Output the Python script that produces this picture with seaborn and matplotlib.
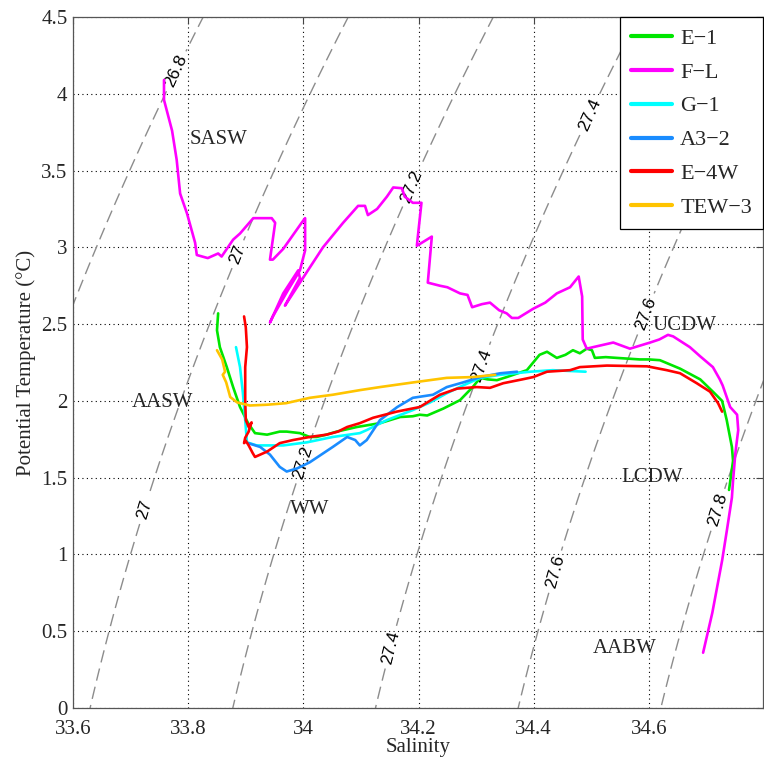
import numpy as np
import pandas as pd
import matplotlib
matplotlib.use("Agg")
import matplotlib.pyplot as plt
from matplotlib.lines import Line2D
import seaborn as sns

# ---------------- data ----------------
stations = ["E\u22121", "F\u2212L", "G\u22121", "A3\u22122", "E\u22124W", "TEW\u22123"]
colors = ["#00e600", "#ff00ff", "#00ffff", "#1a8cff", "#ff0000", "#ffc400"]

E1_S = [33.852, 33.85, 33.855, 33.867, 33.878, 33.89, 33.904, 33.916, 33.937, 33.959, 33.971, 33.994, 34.011, 34.023,
        34.04, 34.058, 34.093, 34.133, 34.168, 34.19, 34.202, 34.215, 34.243, 34.272, 34.294, 34.307, 34.32, 34.336,
        34.353, 34.388, 34.41, 34.423, 34.44, 34.455, 34.468, 34.48, 34.492, 34.501, 34.506, 34.525, 34.544, 34.584,
        34.6, 34.619, 34.654, 34.689, 34.711, 34.727, 34.735, 34.744, 34.746, 34.742, 34.739]
E1_T = [2.57, 2.46, 2.35, 2.22, 2.09, 1.96, 1.855, 1.79, 1.78, 1.80, 1.80, 1.79, 1.765, 1.765,
        1.78, 1.80, 1.83, 1.855, 1.895, 1.90, 1.91, 1.905, 1.95, 2.005, 2.09, 2.15, 2.14, 2.135,
        2.155, 2.20, 2.30, 2.32, 2.28, 2.30, 2.33, 2.31, 2.34, 2.33, 2.28, 2.285, 2.28, 2.27,
        2.27, 2.265, 2.21, 2.14, 2.06, 2.0, 1.875, 1.70, 1.61, 1.50, 1.42]

FL_S = [33.758, 33.758, 33.772, 33.78, 33.786, 33.798, 33.812, 33.815, 33.834, 33.852, 33.858, 33.878, 33.89, 33.913,
        33.945, 33.951, 33.942, 33.947, 33.965, 33.997, 34.003, 34.003, 33.994, 33.973, 33.947, 33.942, 33.965, 33.991,
        33.994, 33.968, 33.994, 34.034, 34.069, 34.095, 34.107, 34.112, 34.128, 34.145, 34.156, 34.171, 34.176, 34.19,
        34.205, 34.197, 34.223, 34.216, 34.237, 34.25, 34.272, 34.285, 34.293, 34.31, 34.324, 34.34, 34.353, 34.362,
        34.373, 34.399, 34.42, 34.44, 34.463, 34.478, 34.484, 34.485, 34.492, 34.503, 34.538, 34.567, 34.602, 34.618,
        34.633, 34.642, 34.671, 34.689, 34.711, 34.723, 34.728, 34.741, 34.753, 34.755, 34.75, 34.746, 34.744, 34.735,
        34.727, 34.71, 34.694]
FL_T = [4.09, 3.96, 3.76, 3.57, 3.35, 3.22, 3.03, 2.95, 2.93, 2.96, 2.94, 3.05, 3.09, 3.19,
        3.19, 3.16, 2.92, 2.92, 2.99, 3.16, 3.19, 2.98, 2.85, 2.72, 2.55, 2.51, 2.70, 2.85,
        2.80, 2.62, 2.77, 3.0, 3.16, 3.27, 3.27, 3.21, 3.25, 3.33, 3.39, 3.385, 3.33, 3.29,
        3.29, 3.01, 3.07, 2.77, 2.75, 2.74, 2.70, 2.69, 2.61, 2.63, 2.64, 2.59, 2.57, 2.54,
        2.54, 2.60, 2.64, 2.70, 2.74, 2.81, 2.68, 2.40, 2.34, 2.35, 2.38, 2.34, 2.38, 2.40,
        2.43, 2.42, 2.35, 2.29, 2.22, 2.14, 2.10, 1.96, 1.91, 1.81, 1.66, 1.48, 1.37, 1.15,
        0.96, 0.62, 0.36]

G1_S = [33.883, 33.89, 33.895, 33.899, 33.902, 33.919, 33.965, 34.006, 34.051, 34.098, 34.11, 34.145, 34.19, 34.22,
        34.249, 34.277, 34.307, 34.342, 34.394, 34.433, 34.49]
G1_T = [2.35, 2.22, 2.05, 1.875, 1.73, 1.71, 1.71, 1.73, 1.765, 1.79, 1.81, 1.875, 1.94, 1.99,
        2.05, 2.10, 2.15, 2.17, 2.19, 2.20, 2.19]

A32_S = [33.904, 33.925, 33.942, 33.959, 33.971, 33.989, 34.011, 34.051, 34.076, 34.09, 34.098, 34.11, 34.133, 34.163,
         34.19, 34.225, 34.249, 34.277, 34.307, 34.342, 34.371]
A32_T = [1.725, 1.70, 1.65, 1.57, 1.54, 1.56, 1.60, 1.70, 1.765, 1.745, 1.71, 1.745, 1.875, 1.96,
         2.02, 2.04, 2.09, 2.12, 2.155, 2.18, 2.19]

E4W_S = [33.897, 33.9, 33.902, 33.899, 33.899, 33.9, 33.905, 33.91, 33.905, 33.899, 33.897, 33.90, 33.905, 33.912,
         33.916, 33.937, 33.959, 33.982, 34.011, 34.04, 34.06, 34.076, 34.098, 34.121, 34.162, 34.202, 34.237, 34.267,
         34.301, 34.324, 34.347, 34.38, 34.399, 34.423, 34.463, 34.48, 34.527, 34.597, 34.631, 34.654, 34.683, 34.706,
         34.72, 34.727]
E4W_T = [2.55, 2.48, 2.35, 2.22, 2.005, 1.875, 1.83, 1.86, 1.80, 1.76, 1.725, 1.74, 1.71, 1.66,
         1.635, 1.67, 1.725, 1.745, 1.765, 1.78, 1.80, 1.83, 1.855, 1.89, 1.93, 1.96, 2.04, 2.08,
         2.09, 2.085, 2.115, 2.14, 2.155, 2.19, 2.20, 2.22, 2.23, 2.225, 2.20, 2.18, 2.115, 2.06,
         1.985, 1.93]

TEW3_S = [33.85, 33.859, 33.864, 33.86, 33.866, 33.873, 33.885, 33.907, 33.937, 33.97, 34.011, 34.051, 34.098, 34.133,
          34.19, 34.249, 34.294, 34.333]
TEW3_T = [2.33, 2.27, 2.19, 2.17, 2.12, 2.025, 1.99, 1.97, 1.975, 1.985, 2.02, 2.04, 2.07, 2.09,
          2.12, 2.15, 2.155, 2.17]

series_S = [E1_S, FL_S, G1_S, A32_S, E4W_S, TEW3_S]
series_T = [E1_T, FL_T, G1_T, A32_T, E4W_T, TEW3_T]

density_levels = [26.8, 27.0, 27.2, 27.4, 27.6, 27.8]
label_positions = [(33.777, 4.15), (33.89, 2.95), (33.725, 1.29), (34.173, 3.42), (33.99, 1.61),
                   (34.498, 3.86), (34.31, 2.23), (34.159, 0.39), (34.584, 2.58), (34.44, 0.885),
                   (34.711, 1.30)]

water_masses = ["SASW", "AASW", "WW", "UCDW", "LCDW", "AABW"]
wm_S = [33.853, 33.756, 34.011, 34.662, 34.605, 34.558]
wm_T = [3.70, 1.99, 1.29, 2.49, 1.50, 0.39]

x_ticks = [33.6, 33.8, 34.0, 34.2, 34.4, 34.6]
y_ticks = [0, 0.5, 1, 1.5, 2, 2.5, 3, 3.5, 4, 4.5]

# ---------------- long table for seaborn ----------------
rows = []
for name, S, T in zip(stations, series_S, series_T):
    for i, (s, t) in enumerate(zip(S, T)):
        rows.append({"station": name, "order": i, "S": s, "T": t})
df = pd.DataFrame(rows)

# ---------------- density field (EOS-80, p = 0) ----------------
def sigma0(S, T):
    rho_w = (999.842594 + 6.793952e-2 * T - 9.095290e-3 * T**2 + 1.001685e-4 * T**3
             - 1.120083e-6 * T**4 + 6.536332e-9 * T**5)
    A = 8.24493e-1 - 4.0899e-3 * T + 7.6438e-5 * T**2 - 8.2467e-7 * T**3 + 5.3875e-9 * T**4
    B = -5.72466e-3 + 1.0227e-4 * T - 1.6546e-6 * T**2
    C = 4.8314e-4
    return rho_w + A * S + B * S**1.5 + C * S**2 - 1000.0

sg, tg = np.meshgrid(np.linspace(33.5, 34.9, 300), np.linspace(-0.2, 4.7, 300))
sig = sigma0(sg, tg)

# ---------------- figure ----------------
sns.set_style("white")
serif = ["Liberation Serif", "DejaVu Serif"]
plt.rcParams["font.family"] = serif
plt.rcParams["mathtext.fontset"] = "stix"

fig = plt.figure(figsize=(7.64, 7.67), dpi=100)
ax = fig.add_axes([73 / 764, 1 - 708 / 767, (763 - 73) / 764, (708 - 17) / 767])

cs = ax.contour(sg, tg, sig, levels=density_levels, colors="#8c8c8c", linewidths=1.0,
                linestyles="--", zorder=1)
cs.set_dashes([(0, (9, 4.5))])
clabels = ax.clabel(cs, levels=density_levels, inline=True, inline_spacing=5,
                    fmt=lambda v: f"{v:g}", fontsize=12.5, colors="k", manual=label_positions)
for t in clabels:
    t.set_fontfamily(["Liberation Sans", "DejaVu Sans"])

sns.lineplot(data=df, x="S", y="T", hue="station", hue_order=stations, palette=colors,
             sort=False, estimator=None, units="station", linewidth=1.9, legend=False, ax=ax, zorder=3)

for name, s, t in zip(water_masses, wm_S, wm_T):
    ax.text(s, t, name, ha="center", va="center", fontsize=15, family=serif, zorder=4)

ax.set_xlim(33.6, 34.798)
ax.set_ylim(0, 4.5)
ax.set_xticks(x_ticks)
ax.set_yticks(y_ticks)
ax.set_xticklabels([f"{v:g}" for v in x_ticks])
ax.set_yticklabels([f"{v:g}" for v in y_ticks])
ax.tick_params(direction="in", length=5, width=0.8, top=True, right=True, labelsize=15,
               color="#444444")
ax.tick_params(axis="x", pad=9)
ax.tick_params(axis="y", pad=4)
ax.grid(True, color="k", linestyle=(0, (1, 3)), linewidth=0.8)
for sp in ax.spines.values():
    sp.set_color("#555555")
    sp.set_linewidth(0.9)
ax.set_xlabel("Salinity", fontsize=15, labelpad=-1)
ax.set_ylabel("Potential Temperature (\u00b0C)", fontsize=15, labelpad=4)

handles = [Line2D([0], [0], color=c, lw=3) for c in colors]
leg = ax.legend(handles, stations, loc="upper right", fontsize=16, frameon=True, fancybox=False,
                framealpha=1, edgecolor="k", borderaxespad=0, handlelength=1.85, labelspacing=0.6,
                handletextpad=0.35, borderpad=0.5)
leg.get_frame().set_linewidth(0.9)

fig.savefig("out.png", dpi=100)
